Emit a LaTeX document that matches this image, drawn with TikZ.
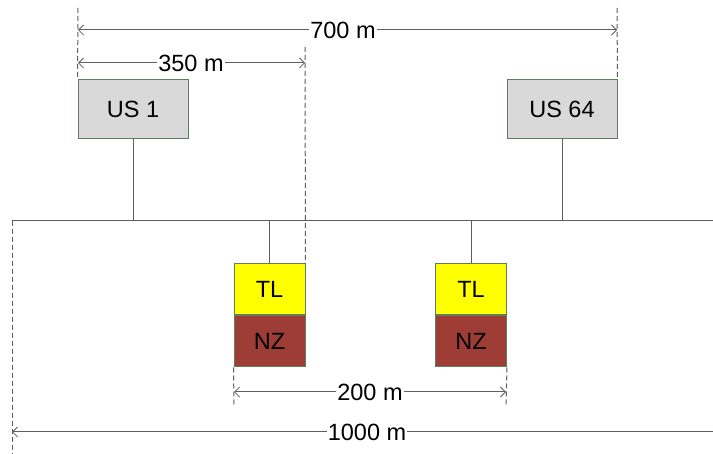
\documentclass[tikz,border=0pt]{standalone}
\usepackage{fontspec}
\setmainfont{Liberation Sans}
\usetikzlibrary{arrows.meta}
\definecolor{linegray}{HTML}{5F5F5F}
\definecolor{boxedge}{HTML}{5E7E5E}
\definecolor{boxgray}{HTML}{D9D9D9}
\definecolor{tlyellow}{HTML}{FFFF00}
\definecolor{nzbrown}{HTML}{9E3D36}
\tikzset{
  conn/.style={draw=linegray, line width=1pt},
  guide/.style={draw=linegray, line width=1pt, dash pattern=on 5pt off 3pt},
  dim/.style={draw=linegray, line width=1pt},
  tipL/.style={{Straight Barb[length=5pt,width=10pt,line width=0.8pt]}-},
  tipR/.style={-{Straight Barb[length=5pt,width=10pt,line width=0.8pt]}},
  usbox/.style={draw=boxedge, fill=boxgray, line width=1pt, minimum width=110pt, minimum height=59pt, inner sep=0pt, font=\fontsize{23.5}{27}\selectfont},
  tlbox/.style={draw=boxedge, fill=tlyellow, line width=1pt, minimum width=71pt, minimum height=51pt, inner sep=0pt, font=\fontsize{23.5}{27}\selectfont},
  nzbox/.style={draw=boxedge, fill=nzbrown, line width=1pt, minimum width=71pt, minimum height=51pt, inner sep=0pt, font=\fontsize{23.5}{27}\selectfont},
  dimlabel/.style={fill=white, inner sep=1pt, font=\fontsize{23.5}{27}\selectfont}
}
\begin{document}
\begin{tikzpicture}[x=1pt, y=-1pt]
\useasboundingbox[fill=white] (0,0) rectangle (713,454);

% boxes
\node[usbox] (us1) at (133,109.5) {US 1};
\node[usbox] (us64) at (562,109.5) {US 64};
\node[tlbox] (tl1) at (269.5,289.5) {TL};
\node[nzbox, anchor=north] (nz1) at (tl1.south) {NZ};
\node[tlbox] (tl2) at (471,289.5) {TL};
\node[nzbox, anchor=north] (nz2) at (tl2.south) {NZ};

% bus
\coordinate (busL) at (12,221);
\coordinate (busR) at (713,221);
\draw[conn] (busL) -- (busR);
\draw[conn] (us1.south) -- (us1.south |- busL);
\draw[conn] (us64.south) -- (us64.south |- busL);
\draw[conn] (tl1.north) -- (tl1.north |- busL);
\draw[conn] (tl2.north) -- (tl2.north |- busL);

% guides
\coordinate (g1top) at (78,8);
\coordinate (g2top) at (617,8);
\coordinate (g3top) at (305,47);
\coordinate (g4bot) at (234,405);
\coordinate (g5bot) at (506,405);
\coordinate (g6bot) at (12,454);
\draw[guide] (g1top) -- (us1.north west);
\draw[guide] (g2top) -- (us64.north east);
\draw[guide] (g3top) -- (tl1.north east);
\draw[guide] (nz1.south west) -- (g4bot);
\draw[guide] (nz2.south east) -- (g5bot);
\draw[guide] (busL) -- (g6bot);

% dimension 700 m
\coordinate (d7a) at (78,30);
\coordinate (d7b) at (617,30);
\node[dimlabel] (l700) at (343,30) {700 m};
\draw[dim, tipL] (d7a) -- (l700.west);
\draw[dim, tipR] (l700.east) -- (d7b);

% dimension 350 m
\coordinate (d3a) at (78,63);
\coordinate (d3b) at (305,63);
\node[dimlabel] (l350) at (191,63) {350 m};
\draw[dim, tipL] (d3a) -- (l350.west);
\draw[dim, tipR] (l350.east) -- (d3b);

% dimension 200 m
\coordinate (d2a) at (234,392);
\coordinate (d2b) at (506,392);
\node[dimlabel] (l200) at (370,392) {200 m};
\draw[dim, tipL] (d2a) -- (l200.west);
\draw[dim, tipR] (l200.east) -- (d2b);

% dimension 1000 m
\coordinate (d1a) at (12,432);
\coordinate (d1b) at (713,432);
\node[dimlabel] (l1000) at (367,432) {1000 m};
\draw[dim, tipL] (d1a) -- (l1000.west);
\draw[dim] (l1000.east) -- (d1b);
\end{tikzpicture}
\end{document}
